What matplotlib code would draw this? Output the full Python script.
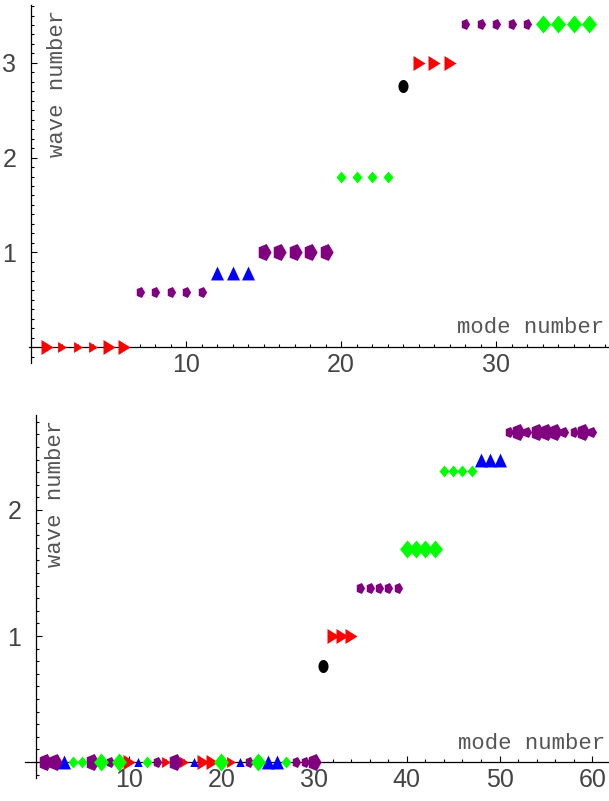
import numpy as np
import matplotlib
matplotlib.use("Agg")
import matplotlib.pyplot as plt

# top panel: wave number for modes 1..36, symmetry type and size (1 = big)
top_wave = [0, 0, 0, 0, 0, 0,
            0.58, 0.58, 0.58, 0.58, 0.58,
            0.78, 0.78, 0.78,
            1.0, 1.0, 1.0, 1.0, 1.0,
            1.80, 1.80, 1.80, 1.80,
            2.76,
            3.0, 3.0, 3.0,
            3.41, 3.41, 3.41, 3.41, 3.41,
            3.41, 3.41, 3.41, 3.41]
top_kind = ["T1", "T1", "T1", "T1", "T1", "T1",
            "H", "H", "H", "H", "H",
            "T2", "T2", "T2",
            "H", "H", "H", "H", "H",
            "G", "G", "G", "G",
            "A",
            "T1", "T1", "T1",
            "H", "H", "H", "H", "H",
            "G", "G", "G", "G"]
top_big = [1, 0, 0, 0, 1, 1,
           0, 0, 0, 0, 0,
           1, 1, 1,
           1, 1, 1, 1, 1,
           0, 0, 0, 0,
           1,
           1, 1, 1,
           0, 0, 0, 0, 0,
           1, 1, 1, 1]

# bottom panel: modes 1..60
bot_wave = [0, 0, 0, 0, 0, 0, 0, 0, 0, 0,
            0, 0, 0, 0, 0, 0, 0, 0, 0, 0,
            0, 0, 0, 0, 0, 0, 0, 0, 0, 0,
            0.76,
            1.0, 1.0, 1.0,
            1.38, 1.38, 1.38, 1.38, 1.38,
            1.69, 1.69, 1.69, 1.69,
            2.31, 2.31, 2.31, 2.31,
            2.40, 2.40, 2.40,
            2.62, 2.62, 2.62, 2.62, 2.62, 2.62, 2.62, 2.62, 2.62, 2.62]
bot_kind = ["H", "H", "T2", "G", "G", "H", "G", "H", "G", "T1",
            "T2", "G", "H", "T1", "H", "T1", "T2", "T1", "T1", "G",
            "T1", "T2", "H", "G", "T2", "T2", "G", "H", "H", "H",
            "A",
            "T1", "T1", "T1",
            "H", "H", "H", "H", "H",
            "G", "G", "G", "G",
            "G", "G", "G", "G",
            "T2", "T2", "T2",
            "H", "H", "H", "H", "H", "H", "H", "H", "H", "H"]
bot_big = [1, 1, 1, 0, 0, 1, 1, 0, 1, 1,
           0, 0, 0, 0, 1, 0, 0, 1, 1, 1,
           0, 0, 0, 1, 1, 1, 0, 0, 0, 1,
           1,
           1, 1, 1,
           0, 0, 0, 0, 0,
           1, 1, 1, 1,
           0, 0, 0, 0,
           1, 1, 1,
           0, 1, 0, 1, 1, 1, 0, 0, 1, 0]

# marker shapes (stretched vertically like the original)
ang = np.linspace(0, 2 * np.pi, 40)
pang = np.arange(5) * 2 * np.pi / 5
pent = np.column_stack([0.8 * np.cos(pang), np.sin(pang)])
shapes = {
    "T1": np.array([[-0.8, -1.0], [0.8, 0.0], [-0.8, 1.0]]),
    "T2": np.array([[-0.93, -1.0], [0.0, 1.0], [0.93, -1.0]]),
    "H": pent,
    "G": np.array([[0.0, 1.0], [0.83, 0.0], [0.0, -1.0], [-0.83, 0.0]]),
    "A": np.column_stack([0.77 * np.cos(ang), np.sin(ang)]),
}
colors = {"T1": "#ff0000", "T2": "#0000ff", "H": "#800080", "G": "#00ff00", "A": "black"}
sizes = {"T1": (7.9, 10.8), "T2": (6.5, 10.0), "H": (7.9, 12.2), "G": (8.6, 13.0), "A": (9.4, 9.4)}

lab_col = "#444444"
txt_col = "#555555"

fig = plt.figure(figsize=(6.09, 8.01), dpi=100)
ax1 = fig.add_axes([0, 1 - 380 / 801, 1, 380 / 801])
ax2 = fig.add_axes([0, 0, 1, 401 / 801])


def draw(ax, wave, kind, big, xlim, ylim, xmaj, xmin, ymaj, ymin, ybnd, xbnd):
    wave = np.array(wave)
    kind = np.array(kind)
    big = np.array(big)
    modes = np.arange(1, len(wave) + 1)
    for k in shapes:
        for b in (0, 1):
            m = (kind == k) & (big == b)
            if m.any():
                ax.plot(modes[m], wave[m], ls="none", marker=shapes[k],
                        ms=sizes[k][b], color=colors[k], mew=0, zorder=3,
                        clip_on=False)
    ax.set_xlim(*xlim)
    ax.set_ylim(*ylim)
    for s in ("top", "right"):
        ax.spines[s].set_visible(False)
    ax.spines["left"].set_position(("data", 0))
    ax.spines["bottom"].set_position(("data", 0))
    ax.spines["left"].set_bounds(*ybnd)
    ax.spines["bottom"].set_bounds(*xbnd)
    for s in ("left", "bottom"):
        ax.spines[s].set_linewidth(0.9)
    ax.set_xticks(xmaj)
    ax.set_xticks(xmin, minor=True)
    ax.set_yticks(ymaj)
    ax.set_yticks(ymin, minor=True)
    ax.set_xticklabels([str(v) for v in xmaj], fontsize=18, color=lab_col,
                       family="Liberation Sans")
    ax.set_yticklabels([str(v) for v in ymaj], fontsize=18, color=lab_col,
                       family="Liberation Sans")
    ax.tick_params(axis="x", which="major", direction="in", length=4, width=0.8, pad=4)
    ax.tick_params(axis="x", which="minor", direction="in", length=2.2, width=0.8)
    ax.tick_params(axis="y", which="major", direction="in", length=4, width=0.8, pad=10.5)
    ax.tick_params(axis="y", which="minor", direction="in", length=2.2, width=0.8)
    ax.patch.set_alpha(0)


draw(ax1, top_wave, top_kind, top_big,
     (-2.0, 37.29), (-0.348, 3.664),
     [10, 20, 30], np.arange(1, 38), [1, 2, 3], np.round(np.arange(-0.1, 3.65, 0.1), 2),
     (-0.17, 3.61), (-0.1, 37.29))
draw(ax2, bot_wave, bot_kind, bot_big,
     (-3.883, 61.81), (-0.3095, 2.873),
     [10, 20, 30, 40, 50, 60], np.arange(2, 62, 2), [1, 2], np.round(np.arange(-0.1, 2.75, 0.1), 2),
     (-0.13, 2.75), (-1.2, 61.81))

ax1.text(37.0, 0.21, "mode number", ha="right", va="center", fontsize=16,
         color=txt_col, family="Liberation Mono")
ax1.text(1.68, 2.78, "wave number", ha="center", va="center", rotation=90,
         fontsize=16, color=txt_col, family="Liberation Mono")
ax2.text(61.4, 0.15, "mode number", ha="right", va="center", fontsize=16,
         color=txt_col, family="Liberation Mono")
ax2.text(2.05, 2.13, "wave number", ha="center", va="center", rotation=90,
         fontsize=16, color=txt_col, family="Liberation Mono")

fig.savefig("out.png", dpi=100)
